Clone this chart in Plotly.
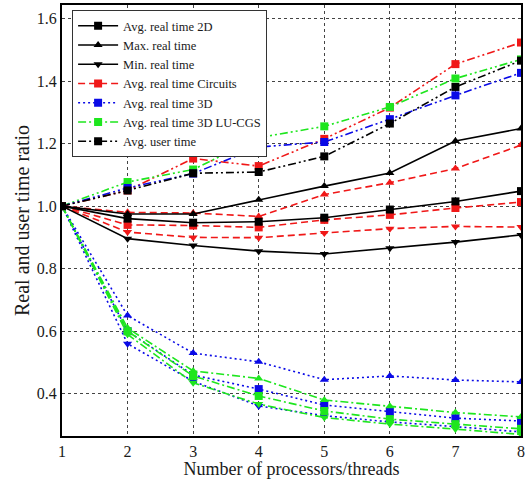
import plotly.graph_objects as go

threads = [1, 2, 3, 4, 5, 6, 7, 8]

# 2D (black solid)
avg_2d = [1.0, 0.960, 0.947, 0.950, 0.963, 0.989, 1.015, 1.048]
max_2d = [1.0, 0.975, 0.975, 1.020, 1.064, 1.106, 1.208, 1.248]
min_2d = [1.0, 0.896, 0.874, 0.856, 0.847, 0.865, 0.885, 0.908]

# Circuits (red dashed)
avg_circ = [1.0, 0.940, 0.938, 0.932, 0.956, 0.972, 0.994, 1.013]
max_circ = [1.0, 0.980, 0.978, 0.967, 1.037, 1.075, 1.120, 1.195]
min_circ = [1.0, 0.917, 0.900, 0.899, 0.914, 0.928, 0.935, 0.933]

# 3D (blue dotted)
avg_3d = [1.0, 0.600, 0.460, 0.415, 0.364, 0.342, 0.322, 0.313]
max_3d = [1.0, 0.650, 0.530, 0.502, 0.445, 0.457, 0.444, 0.438]
min_3d = [1.0, 0.560, 0.440, 0.361, 0.330, 0.310, 0.295, 0.278]

# 3D LU-CGS (green dash-dot)
avg_lu = [1.0, 0.600, 0.457, 0.393, 0.345, 0.319, 0.303, 0.288]
max_lu = [1.0, 0.610, 0.473, 0.449, 0.380, 0.360, 0.340, 0.326]
min_lu = [1.0, 0.590, 0.435, 0.367, 0.324, 0.303, 0.287, 0.270]

# Avg user time (dash-dot-dot), one per problem set
user_2d = [1.0, 1.050, 1.105, 1.109, 1.159, 1.264, 1.381, 1.465]
user_circ = [1.0, 1.050, 1.152, 1.128, 1.215, 1.315, 1.454, 1.523]
user_3d = [1.0, 1.058, 1.104, 1.189, 1.205, 1.278, 1.354, 1.426]
user_lu = [1.0, 1.077, 1.117, 1.219, 1.255, 1.317, 1.408, 1.469]

y_ticks = [0.4, 0.6, 0.8, 1.0, 1.2, 1.4, 1.6]
y_tick_labels = ["0.4", "0.6", "0.8", "1.0", "1.2", "1.4", "1.6"]

BLACK = "#000000"
RED = "#f01818"
BLUE = "#0a0ae6"
GREEN = "#1ee61e"

SOLID = "solid"
DASHED = "7px,4px"
DOTTED = "2px,3px"
DASHDOT = "8px,3px,2px,3px"
DASHDOTDOT = "8px,3px,2px,3px,2px,3px"

fig = go.Figure()


def add(y, color, dash, symbol, name=None, rank=1000):
    fig.add_trace(go.Scatter(
        x=threads, y=y, mode="lines+markers",
        line=dict(color=color, width=1.6, dash=dash),
        marker=dict(color=color, symbol=symbol, size=8),
        name=name if name else "",
        showlegend=name is not None,
        legendrank=rank,
    ))


# user time lines
add(user_circ, RED, DASHDOTDOT, "square")
add(user_lu, GREEN, DASHDOTDOT, "square")
add(user_3d, BLUE, DASHDOTDOT, "square")
add(user_2d, BLACK, DASHDOTDOT, "square", "Avg. user time", 7)

# 3D and LU-CGS
add(max_3d, BLUE, DOTTED, "triangle-up")
add(avg_3d, BLUE, DOTTED, "square", "Avg. real time 3D", 5)
add(min_3d, BLUE, DOTTED, "triangle-down")
add(max_lu, GREEN, DASHDOT, "triangle-up")
add(avg_lu, GREEN, DASHDOT, "square", "Avg. real time 3D LU-CGS", 6)
add(min_lu, GREEN, DASHDOT, "triangle-down")

# Circuits
add(max_circ, RED, DASHED, "triangle-up")
add(avg_circ, RED, DASHED, "square", "Avg. real time Circuits", 4)
add(min_circ, RED, DASHED, "triangle-down")

# 2D
add(max_2d, BLACK, SOLID, "triangle-up", "Max. real time", 2)
add(avg_2d, BLACK, SOLID, "square", "Avg. real time 2D", 1)
add(min_2d, BLACK, SOLID, "triangle-down", "Min. real time", 3)

SERIF = "Liberation Serif, Times New Roman, serif"
tick_font = dict(family=SERIF, size=16, color="#1a1a1a")

fig.update_layout(
    width=529, height=479,
    margin=dict(l=62, r=8, t=5, b=43, autoexpand=False),
    paper_bgcolor="white", plot_bgcolor="white",
    font=tick_font,
    legend=dict(
        x=0.022, y=0.988, xanchor="left", yanchor="top",
        bgcolor="white", bordercolor="#333", borderwidth=1,
        font=dict(family=SERIF, size=12.5, color="#1a1a1a"),
        tracegroupgap=0, itemwidth=40,
    ),
)

fig.update_xaxes(
    range=[1, 8], tickvals=threads, ticktext=[str(t) for t in threads],
    showgrid=True, gridcolor="#444", griddash="3px,3px", gridwidth=1,
    showline=True, linecolor="black", linewidth=2, mirror=True,
    zeroline=False, ticks="", automargin=False,
    title=dict(text="Number of processors/threads", standoff=0,
               font=dict(family=SERIF, size=18, color="#1a1a1a")),
    tickfont=tick_font,
)
fig.update_yaxes(
    range=[0.265, 1.643], tickvals=y_ticks, ticktext=y_tick_labels,
    showgrid=True, gridcolor="#444", griddash="3px,3px", gridwidth=1,
    showline=True, linecolor="black", linewidth=2, mirror=True,
    zeroline=False, ticks="", automargin=False,
    title=dict(text="Real and user time ratio", standoff=2,
               font=dict(family=SERIF, size=20, color="#1a1a1a")),
    tickfont=tick_font,
)

fig.write_html(
    "out.html",
    config={"displayModeBar": False},
    post_script="document.body.style.margin='0';document.body.style.overflow='hidden';",
)
